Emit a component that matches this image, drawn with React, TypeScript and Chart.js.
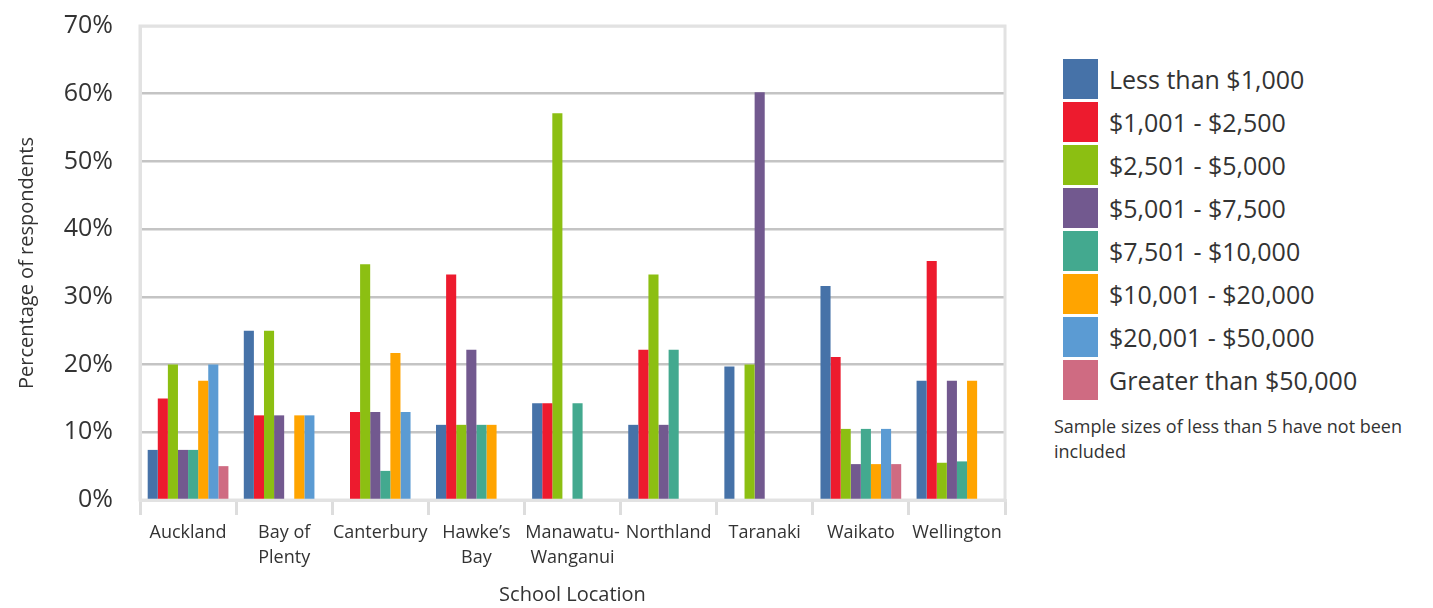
import React, { useEffect, useRef } from 'react';
import { Chart, registerables } from 'chart.js';

Chart.register(...registerables);

const categories: (string | string[])[] = [
  'Auckland',
  ['Bay of', 'Plenty'],
  'Canterbury',
  ['Hawke’s', 'Bay'],
  ['Manawatu-', 'Wanganui'],
  'Northland',
  'Taranaki',
  'Waikato',
  'Wellington',
];

const seriesLabels = [
  'Less than $1,000',
  '$1,001 - $2,500',
  '$2,501 - $5,000',
  '$5,001 - $7,500',
  '$7,501 - $10,000',
  '$10,001 - $20,000',
  '$20,001 - $50,000',
  'Greater than $50,000',
];

const seriesColors = ['#4672a8', '#ed1b2e', '#8cbf12', '#72598f', '#43a98f', '#ffa400', '#5b9bd3', '#cf6b82'];

const lessThan1000 = [7.4, 25, null, 11.1, 14.3, 11.1, 19.7, 31.6, 17.6];
const from1001 = [15, 12.5, 13, 33.3, 14.3, 22.2, null, 21.1, 35.3];
const from2501 = [20, 25, 34.8, 11.1, 57.1, 33.3, 20, 10.5, 5.5];
const from5001 = [7.4, 12.5, 13, 22.2, null, 11.1, 60.2, 5.3, 17.6];
const from7501 = [7.4, null, 4.3, 11.1, 14.3, 22.2, null, 10.5, 5.7];
const from10001 = [17.6, 12.5, 21.7, 11.1, null, null, null, 5.3, 17.6];
const from20001 = [20, 12.5, 13, null, null, null, null, 10.5, null];
const over50000 = [5, null, null, null, null, null, null, 5.3, null];

const seriesValues = [lessThan1000, from1001, from2501, from5001, from7501, from10001, from20001, over50000];

const yTicks = [0, 10, 20, 30, 40, 50, 60, 70];

const FONT = '"Open Sans", "Noto Sans", sans-serif';
const TEXT = '#333333';

const framePlugin = {
  id: 'frame',
  beforeDatasetsDraw(chart: any) {
    const { ctx, chartArea } = chart;
    ctx.save();
    ctx.strokeStyle = '#e2e2e2';
    ctx.lineWidth = 3;
    ctx.strokeRect(chartArea.left, chartArea.top, chartArea.right - chartArea.left, chartArea.bottom - chartArea.top);
    ctx.restore();
  },
};

export default function App() {
  const ref = useRef<HTMLCanvasElement | null>(null);

  useEffect(() => {
    if (!ref.current) return;
    const chart = new Chart(ref.current, {
      type: 'bar',
      data: {
        labels: categories,
        datasets: seriesLabels.map((label, i) => ({
          label,
          data: seriesValues[i],
          backgroundColor: seriesColors[i],
          borderWidth: 0,
          barPercentage: 1,
          categoryPercentage: 0.84,
        })),
      },
      options: {
        animation: false,
        responsive: false,
        maintainAspectRatio: false,
        layout: { padding: { top: 26, right: 5, left: 0, bottom: 0 } },
        plugins: {
          legend: { display: false },
          tooltip: { enabled: false },
        },
        scales: {
          x: {
            grid: {
              display: true,
              drawOnChartArea: false,
              drawTicks: true,
              tickLength: 15,
              color: '#dddddd',
              lineWidth: 3,
              offset: true,
            },
            border: { display: true, color: '#e2e2e2', width: 3 },
            ticks: {
              color: TEXT,
              font: { family: FONT, size: 18, lineHeight: '25px' },
              padding: 5,
              maxRotation: 0,
              autoSkip: false,
            },
            title: {
              display: true,
              text: 'School Location',
              color: TEXT,
              font: { family: FONT, size: 20, lineHeight: '25px' },
              padding: { top: 0, bottom: 0 },
            },
            afterFit: (s: any) => {
              s.height = 108;
              s.paddingLeft = 0;
              s.paddingRight = 0;
            },
          },
          y: {
            min: 0,
            max: 70,
            afterBuildTicks: (s: any) => {
              s.ticks = yTicks.map((v) => ({ value: v }));
            },
            grid: {
              drawTicks: false,
              color: (c: any) => (c.tick && (c.tick.value === 0 || c.tick.value === 70) ? '#e2e2e2' : '#c4c4c4'),
              lineWidth: 2.5,
            },
            border: { display: true, color: '#e2e2e2', width: 3 },
            ticks: {
              color: TEXT,
              font: { family: FONT, size: 25 },
              padding: 27,
              callback: (v: any) => v + '%',
            },
            title: {
              display: true,
              text: 'Percentage of respondents',
              color: TEXT,
              font: { family: FONT, size: 20, lineHeight: '25px' },
              padding: { top: 15, bottom: 0 },
            },
            afterFit: (s: any) => {
              s.width = 140;
              s.paddingTop = 0;
              s.paddingBottom = 0;
            },
          },
        },
      },
      plugins: [framePlugin],
    });
    return () => chart.destroy();
  }, []);

  return (
    <div style={{ position: 'absolute', left: 0, top: 0, width: 1433, height: 608, background: '#ffffff', fontFamily: FONT, color: TEXT }}>
      <canvas ref={ref} width={1010} height={608} style={{ position: 'absolute', left: 0, top: 0, width: 1010, height: 608 }} />
      <div style={{ position: 'absolute', left: 1063, top: 59 }}>
        {seriesLabels.map((label, i) => (
          <div key={label} style={{ display: 'flex', alignItems: 'center', height: 40, marginBottom: 3 }}>
            <div style={{ width: 35, height: 40, background: seriesColors[i] }} />
            <span style={{ marginLeft: 11, fontSize: 25, lineHeight: '40px', whiteSpace: 'nowrap' }}>{label}</span>
          </div>
        ))}
      </div>
      <div style={{ position: 'absolute', left: 1054, top: 414, width: 372, fontSize: 18, lineHeight: '25px' }}>
        Sample sizes of less than 5 have not been included
      </div>
    </div>
  );
}
